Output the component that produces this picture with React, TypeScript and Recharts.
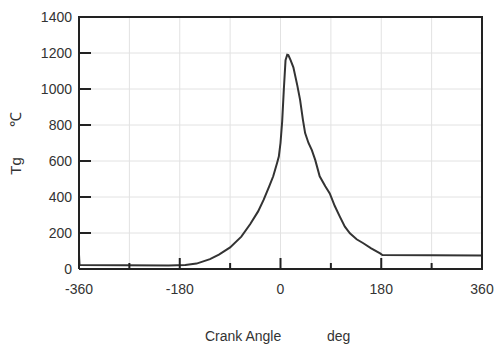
import { LineChart, Line, XAxis, YAxis, CartesianGrid } from 'recharts';

// crank angle (deg) and gas temperature Tg (°C)
const angles = [
  -360, -359, -200, -170, -150, -126, -110, -90, -70, -54, -40, -30, -20, -13, -6, -3,
  0, 3, 6, 9, 12, 14, 18, 23, 30, 35, 40, 44, 50, 56, 62, 70, 80, 88, 97, 106, 115,
  124, 136, 148, 162, 178, 182, 360,
];
const temps = [
  80, 22, 20, 22, 30, 55, 80, 120, 180, 250, 320, 385, 460, 515, 590, 625,
  700, 820, 1000, 1160, 1190, 1188, 1160, 1120, 1020, 940, 830, 755, 700, 660, 606, 515, 460, 420, 350, 291, 235,
  198, 165, 143, 115, 87, 78, 75,
];

const xTicks = [-360, -270, -180, -90, 0, 90, 180, 270, 360];
const xLabels = [-360, -180, 0, 180, 360];
const yTicks = [0, 200, 400, 600, 800, 1000, 1200, 1400];

const data = angles.map((a, i) => ({ angle: a, tg: temps[i] }));

const W = 504;
const H = 346;
const M = { top: 17, right: 22, bottom: 47, left: 0 };
const Y_W = 79;
const X_H = 30;

// plot box, from the layout numbers above
const PLOT_L = M.left + Y_W;
const PLOT_R = W - M.right;
const PLOT_T = M.top;
const PLOT_B = H - M.bottom - X_H;

const FONT = '"Liberation Sans", Arial, sans-serif';
const INK = '#222';

const XTick = (props: any) => {
  const { x, y, payload } = props;
  const major = xLabels.includes(payload.value);
  return (
    <g>
      <line x1={x} y1={y} x2={x} y2={y - (major ? 11 : 6)} stroke={INK} strokeWidth={2} />
      {major && (
        <text x={x} y={y + 25} textAnchor="middle" fontSize={14} fill="#333" fontFamily={FONT}>
          {payload.value}
        </text>
      )}
    </g>
  );
};

const YTick = (props: any) => {
  const { x, y, payload } = props;
  return (
    <g>
      {payload.value > 0 && payload.value < 1400 && (
        <line x1={x} y1={y} x2={x + 12} y2={y} stroke={INK} strokeWidth={2} />
      )}
      <text x={x - 7} y={y} dy="0.36em" textAnchor="end" fontSize={14} fill="#333" fontFamily={FONT}>
        {payload.value}
      </text>
    </g>
  );
};

const XTitle = () => (
  <g fontSize={14} fill="#333" fontFamily={FONT}>
    <text x={205} y={341}>Crank Angle</text>
    <text x={327} y={341}>deg</text>
  </g>
);

const YTitle = () => (
  <g fontSize={15} fill="#333" fontFamily={FONT}>
    <text x={21} y={166} transform="rotate(-90 21 166)" textAnchor="middle">Tg</text>
    <text x={21} y={119} transform="rotate(-90 21 119)" textAnchor="middle">℃</text>
  </g>
);

export default function App() {
  return (
    <div style={{ position: 'absolute', left: 0, top: 0, width: W, height: H, background: '#fff' }}>
      <LineChart width={W} height={H} data={data} margin={M}>
        <CartesianGrid stroke="#e2e2e2" strokeWidth={1} />
        <XAxis
          dataKey="angle"
          type="number"
          domain={[-360, 360]}
          ticks={xTicks}
          interval={0}
          height={X_H}
          tickSize={0}
          tickMargin={0}
          tickLine={false}
          axisLine={{ stroke: INK, strokeWidth: 2 }}
          tick={<XTick />}
          label={<XTitle />}
        />
        <YAxis
          type="number"
          domain={[0, 1400]}
          ticks={yTicks}
          interval={0}
          width={Y_W}
          tickSize={0}
          tickMargin={0}
          tickLine={false}
          axisLine={{ stroke: INK, strokeWidth: 2 }}
          tick={<YTick />}
          label={<YTitle />}
        />
        <Line
          type="linear"
          dataKey="tg"
          stroke="#333"
          strokeWidth={2}
          dot={false}
          isAnimationActive={false}
        />
      </LineChart>
      {/* top and right sides of the frame */}
      <div
        style={{
          position: 'absolute',
          left: PLOT_L - 1,
          top: PLOT_T - 1,
          width: PLOT_R - PLOT_L,
          height: PLOT_B - PLOT_T,
          borderTop: `2px solid ${INK}`,
          borderRight: `2px solid ${INK}`,
          pointerEvents: 'none',
        }}
      />
    </div>
  );
}
